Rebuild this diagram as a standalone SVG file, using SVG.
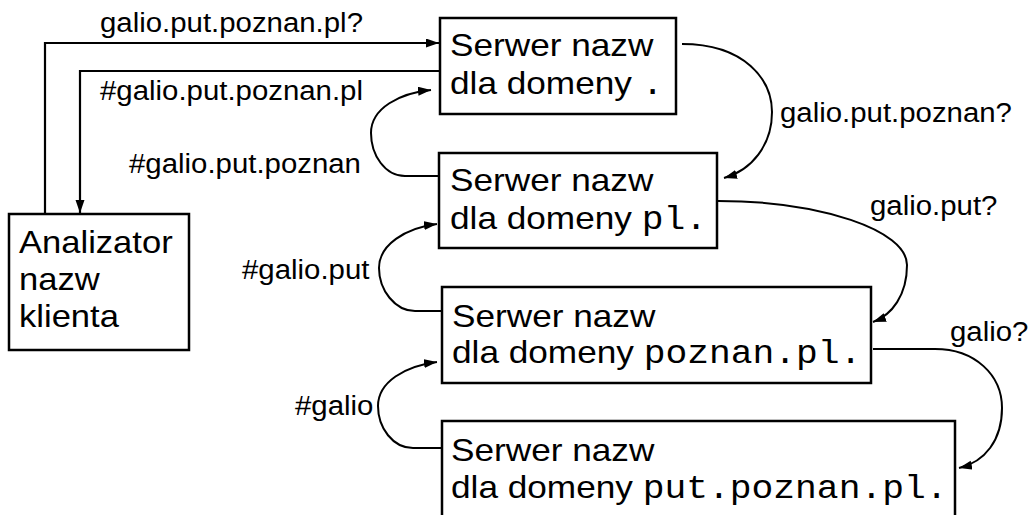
<svg xmlns="http://www.w3.org/2000/svg" width="1033" height="515" viewBox="0 0 1033 515">
  <style>
    .box { fill: #fff; stroke: #000; stroke-width: 2.5; }
    .line { fill: none; stroke: #000; stroke-width: 2.2; }
    .curve { fill: none; stroke: #000; stroke-width: 2; }
    .big { font-family: "Liberation Sans", Arial, sans-serif; font-size: 32px; fill: #000; }
    .lbl { font-family: "Liberation Sans", Arial, sans-serif; font-size: 28px; fill: #000; }
    .mono { font-family: "Liberation Mono", "Courier New", monospace; font-size: 33px; }
  </style>
  <defs>
    <marker id="arrow" markerUnits="userSpaceOnUse" markerWidth="14" markerHeight="10" refX="13" refY="4.5" orient="auto">
      <path d="M0,0 L13,4.5 L0,9 z" fill="#000"/>
    </marker>
  </defs>

  <rect width="1033" height="515" fill="#fff"/>

  <!-- connectors -->
  <g id="connectors">
    <path class="line" d="M45,214 L45,43 L439,43" marker-end="url(#arrow)"/>
    <path class="line" d="M440,71 L80,71 L80,213" marker-end="url(#arrow)"/>
    <path class="curve" d="M682,44 C745,44 772,80 772,112 C772,145 752,170 724,178" marker-end="url(#arrow)"/>
    <path class="curve" d="M439,176 L405,176 C385,176 371,155 371,133 C371,108 400,93 431,90" marker-end="url(#arrow)"/>
    <path class="curve" d="M718,201 C820,201 907,230 907,265 C907,295 892,315 873,322" marker-end="url(#arrow)"/>
    <path class="curve" d="M442,311 L415,311 C395,311 379,290 379,268 C379,245 405,228 437,224" marker-end="url(#arrow)"/>
    <path class="curve" d="M873,349 L935,349 C975,349 1002,375 1002,408 C1002,440 985,462 959,468" marker-end="url(#arrow)"/>
    <path class="curve" d="M442,448 L413,448 C393,448 378,428 378,406 C378,382 405,366 437,362" marker-end="url(#arrow)"/>

    <text class="lbl" transform="translate(100,32) scale(1.05,1)">galio.put.poznan.pl?</text>
    <text class="lbl" transform="translate(100,100) scale(1.05,1)">#galio.put.poznan.pl</text>
    <text class="lbl" transform="translate(129,173) scale(1.05,1)">#galio.put.poznan</text>
    <text class="lbl" transform="translate(780,122) scale(1.05,1)">galio.put.poznan?</text>
    <text class="lbl" transform="translate(870,215) scale(1.05,1)">galio.put?</text>
    <text class="lbl" transform="translate(242,279) scale(1.05,1)">#galio.put</text>
    <text class="lbl" transform="translate(950,341) scale(1.05,1)">galio?</text>
    <text class="lbl" transform="translate(295,415) scale(1.05,1)">#galio</text>
  </g>

  <!-- client resolver -->
  <g id="client">
    <rect class="box" x="9" y="214" width="180" height="136"/>
    <text class="big" transform="translate(19,253) scale(1.08,1)">
      <tspan x="0" y="0">Analizator</tspan>
      <tspan x="0" y="37">nazw</tspan>
      <tspan x="0" y="74">klienta</tspan>
    </text>
  </g>

  <!-- root name server -->
  <g id="root">
    <rect class="box" x="440" y="18" width="236" height="96"/>
    <text class="big" transform="translate(450,56) scale(1.1,1)">
      <tspan x="0" y="0">Serwer nazw</tspan>
      <tspan x="0" y="38">dla domeny <tspan class="mono">.</tspan></tspan>
    </text>
  </g>

  <!-- pl. name server -->
  <g id="pl">
    <rect class="box" x="439" y="153" width="278" height="95"/>
    <text class="big" transform="translate(450,191) scale(1.1,1)">
      <tspan x="0" y="0">Serwer nazw</tspan>
      <tspan x="0" y="38">dla domeny <tspan class="mono">pl.</tspan></tspan>
    </text>
  </g>

  <!-- poznan.pl. name server -->
  <g id="poznan">
    <rect class="box" x="442" y="287" width="429" height="96"/>
    <text class="big" transform="translate(452,327) scale(1.1,1)">
      <tspan x="0" y="0">Serwer nazw</tspan>
      <tspan x="0" y="36">dla domeny <tspan class="mono">poznan.pl.</tspan></tspan>
    </text>
  </g>

  <!-- put.poznan.pl. name server -->
  <g id="put">
    <rect class="box" x="442" y="421" width="513" height="100"/>
    <text class="big" transform="translate(451,461) scale(1.1,1)">
      <tspan x="0" y="0">Serwer nazw</tspan>
      <tspan x="0" y="37">dla domeny <tspan class="mono">put.poznan.pl.</tspan></tspan>
    </text>
  </g>
</svg>
